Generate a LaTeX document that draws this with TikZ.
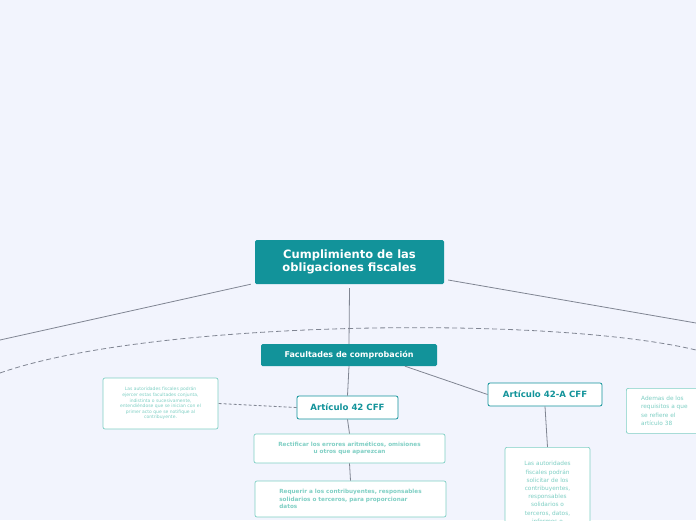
\documentclass[tikz,border=0pt]{standalone}
\usepackage{fontspec}
\setmainfont{DejaVu Sans}
\usetikzlibrary{positioning, calc}
\definecolor{bgc}{HTML}{F2F4FD}
\definecolor{teal1}{HTML}{12939A}
\definecolor{tealtxt}{HTML}{7FCFC4}
\definecolor{linec}{HTML}{808592}
\begin{document}
\begin{tikzpicture}[x=1pt, y=-1pt,
  mainbox/.style={fill=teal1, text=white, font=\bfseries, rounded corners=1.5pt, inner sep=0pt, align=center},
  subbox/.style={draw=teal1, fill=white, text=teal1, font=\bfseries\fontsize{8.6}{10}\selectfont, rounded corners=2pt, line width=0.8pt, inner sep=0pt},
  notebox/.style={draw=tealtxt, fill=white, text=tealtxt, rounded corners=2pt, line width=0.7pt, inner sep=2pt, align=center},
  conn/.style={draw=linec, line width=0.8pt}]
\useasboundingbox[fill=bgc] (0,0) rectangle (696,520);
% main topic
\node[mainbox, minimum width=189pt, minimum height=44pt, font=\bfseries\fontsize{11.5}{13}\selectfont] (root) at (349.5,262) {Cumplimiento de las\\obligaciones fiscales};
\node[mainbox, minimum width=176pt, minimum height=22pt, font=\bfseries\fontsize{8}{9}\selectfont] (facul) at (349,355) {Facultades de comprobación};
\node[subbox, minimum width=101pt, minimum height=23pt] (art42) at (347.5,407.5) {Artículo 42 CFF};
\node[subbox, minimum width=114pt, minimum height=23pt] (art42a) at (545,394.5) {Artículo 42-A CFF};
% notes
\node[notebox, minimum width=115pt, minimum height=51pt, font=\fontsize{4.5}{5.6}\selectfont] (conj) at (160.5,403.5) {Las autoridades fiscales podrán\\ejercer estas facultades conjunta,\\indistinta o sucesivamente,\\entendiéndose que se inician con el\\primer acto que se notifique al\\contribuyente.};
\node[notebox, minimum width=191pt, minimum height=29pt, font=\bfseries\fontsize{5.7}{7}\selectfont] (rect) at (349.5,448.5) {Rectificar los errores aritméticos, omisiones\\u otros que aparezcan};
\node[notebox, minimum width=191pt, minimum height=36pt, font=\bfseries\fontsize{5.7}{7.8}\selectfont, align=left] (req) at (350.5,499) {Requerir a los contribuyentes, responsables\\solidarios o terceros, para proporcionar\\datos};
\node[notebox, minimum width=85pt, minimum height=90pt, font=\fontsize{5.8}{8.2}\selectfont, anchor=north] (solic) at (547.5,447) {Las autoridades\\fiscales podrán\\solicitar de los\\contribuyentes,\\responsables\\solidarios o\\terceros, datos,\\informes o};
\node[notebox, minimum width=76pt, minimum height=45pt, font=\fontsize{5.8}{8.2}\selectfont, align=left, anchor=north west] (adem) at (626,388) {Ademas de los\\requisitos a que\\se refiere el\\artículo 38\hspace{10pt}};
% free ends
\coordinate (lend) at (0,340);
\coordinate (rend) at (696,323);
\coordinate (arcl) at (0,373);
\coordinate (arcr) at (696,350);
% connectors
\draw[conn] (root.south west) ++(-4,0) coordinate (rl) -- (lend);
\draw[conn] ($(root.east)+(4,18)$) -- (rend);
\draw[conn] (root.south) ++(0,4) -- (facul.north);
\draw[conn, dashed, dash pattern=on 5pt off 3pt] (arcl) .. controls (150,320) and (550,315) .. (arcr);
\draw[conn] (facul.south) -- (art42.north);
\draw[conn] ($(facul.south)+(56,0)$) -- (art42a.west);
\draw[conn, dashed, dash pattern=on 3pt off 2pt] (art42.west) -- (conj.east);
\draw[conn] (art42.south) -- (rect.north);
\draw[conn] (rect.south) -- (req.north);
\draw[conn] (art42a.south) -- (solic.north);
\end{tikzpicture}
\end{document}
